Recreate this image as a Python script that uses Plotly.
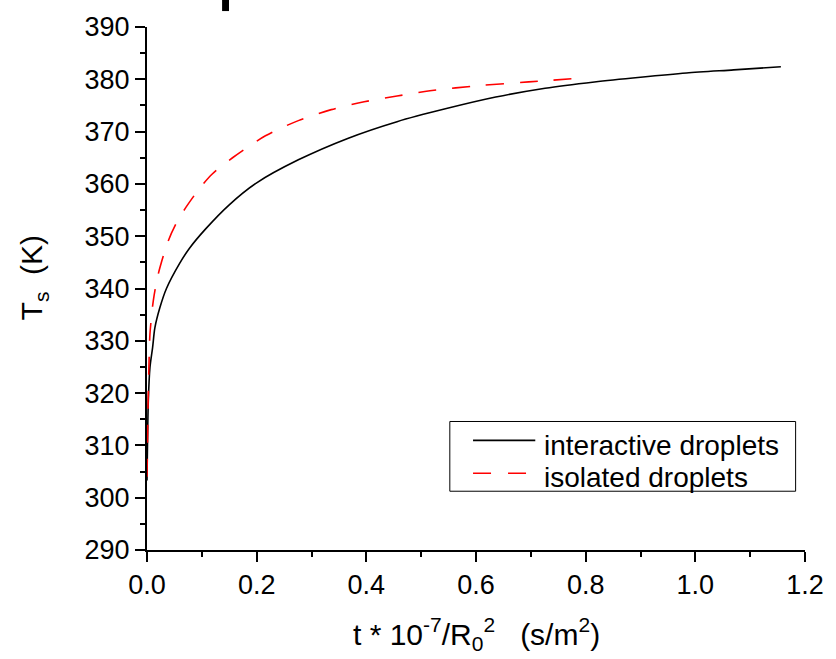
import plotly.graph_objects as go

# Surface temperature history of evaporating droplets
t_interactive = [0.0, 0.001, 0.0024, 0.0054, 0.0102, 0.0144, 0.0234, 0.0355, 0.0595,
                 0.0775, 0.107, 0.15, 0.2, 0.276, 0.366, 0.456, 0.546, 0.636, 0.726,
                 0.816, 0.9, 0.984, 1.07, 1.156]
T_interactive = [303.3, 311.0, 318.6, 324.9, 328.7, 332.5, 336.3, 340.0, 344.8,
                 347.7, 351.4, 356.0, 360.2, 364.6, 368.7, 371.9, 374.4, 376.6, 378.3,
                 379.5, 380.4, 381.2, 381.8, 382.4]

t_isolated = [0.0, 0.002, 0.0041, 0.0054, 0.0114, 0.0204, 0.0384, 0.0535, 0.0715,
              0.0955, 0.119, 0.156, 0.216, 0.276, 0.336, 0.396, 0.456, 0.516, 0.606,
              0.696, 0.80]
T_isolated = [304.0, 318.0, 327.5, 331.3, 337.6, 342.7, 349.0, 352.5, 355.6,
              359.1, 361.9, 365.0, 369.2, 372.1, 374.2, 375.7, 376.8, 377.8, 378.8,
              379.5, 380.3]

x_ticks = [0.0, 0.2, 0.4, 0.6, 0.8, 1.0, 1.2]
y_ticks = [290, 300, 310, 320, 330, 340, 350, 360, 370, 380, 390]
series_names = ["interactive droplets", "isolated droplets"]

FONT = "Liberation Sans, Arial, sans-serif"
W, H = 836, 659
ML, MR, MT, MB = 147, 23, 25, 109
PW, PH = W - ML - MR, H - MT - MB


def px(xp):
    return (xp - ML) / PW


def py(yp):
    return (H - MB - yp) / PH


fig = go.Figure()
fig.add_trace(go.Scatter(x=t_interactive, y=T_interactive, mode="lines",
                         name=series_names[0],
                         line=dict(color="black", width=1.6, shape="spline",
                                   smoothing=0.8)))
fig.add_trace(go.Scatter(x=t_isolated, y=T_isolated, mode="lines",
                         name=series_names[1],
                         line=dict(color="red", width=1.6, dash="18px,16px",
                                   shape="spline", smoothing=0.8)))

axis_common = dict(
    showgrid=False, zeroline=False, showline=True, linecolor="black", linewidth=2,
    ticks="outside", ticklen=10, tickwidth=2, tickcolor="black",
    tickfont=dict(family=FONT, size=27, color="black"),
    minor=dict(ticks="outside", ticklen=5, tickwidth=2, tickcolor="black"),
)

fig.update_xaxes(range=[0, 1.2], tickvals=x_ticks,
                 ticktext=[f"{v:.1f}" for v in x_ticks],
                 minor_dtick=0.1, **axis_common)
fig.update_yaxes(range=[290, 390], tickvals=y_ticks,
                 ticktext=[str(v) for v in y_ticks],
                 minor_dtick=5, **axis_common)

# Legend box drawn in paper coordinates
shapes = [
    dict(type="rect", xref="paper", yref="paper",
         x0=px(453.5), x1=px(803.5), y0=py(491), y1=py(421),
         line=dict(color="black", width=1), fillcolor="white", layer="above"),
    dict(type="line", xref="paper", yref="paper",
         x0=px(477), x1=px(540), y0=py(440), y1=py(440),
         line=dict(color="black", width=1.6)),
    dict(type="line", xref="paper", yref="paper",
         x0=px(477), x1=px(540), y0=py(473), y1=py(473),
         line=dict(color="red", width=1.6, dash="18px,17px")),
    dict(type="rect", xref="paper", yref="paper",
         x0=px(223), x1=px(230), y0=py(9), y1=py(-5),
         line=dict(width=0), fillcolor="black"),
]

annotations = [
    dict(text=series_names[0], xref="paper", yref="paper", x=px(547), y=py(445),
         xanchor="left", yanchor="middle", showarrow=False,
         font=dict(family=FONT, size=28, color="black")),
    dict(text=series_names[1], xref="paper", yref="paper", x=px(547), y=py(477),
         xanchor="left", yanchor="middle", showarrow=False,
         font=dict(family=FONT, size=28, color="black")),
    dict(text="t * 10<sup>-7</sup>/R<sub>0</sub><sup>2</sup>\u00a0\u00a0\u00a0(s/m<sup>2</sup>)",
         xref="paper", yref="paper", x=px(481), y=py(634),
         xanchor="center", yanchor="middle", showarrow=False,
         font=dict(family=FONT, size=30, color="black")),
    dict(text="T<sub>s</sub>\u00a0\u00a0(K)",
         xref="paper", yref="paper", x=px(32), y=py(276),
         xanchor="center", yanchor="middle", textangle=-90, showarrow=False,
         font=dict(family=FONT, size=30, color="black")),
]

fig.update_layout(
    width=W, height=H,
    margin=dict(l=ML, r=MR, t=MT, b=MB),
    paper_bgcolor="white", plot_bgcolor="white",
    showlegend=False,
    shapes=shapes, annotations=annotations,
    font=dict(family=FONT, color="black"),
)

fig.write_html("out.html")
